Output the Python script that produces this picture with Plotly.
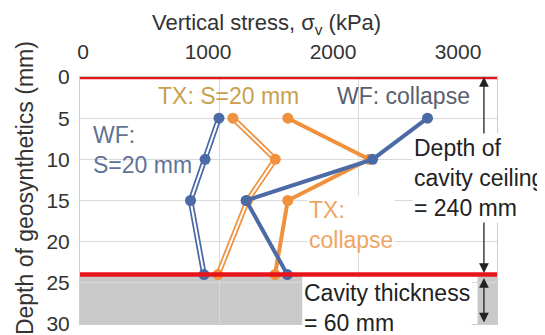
import plotly.graph_objects as go

# depth of each geosynthetic layer (axis units as printed on the chart)
depth = [5, 10, 15, 24]

# vertical stress (kPa)
wf_s20 = [1000, 900, 795, 892]
tx_s20 = [1100, 1405, 1205, 993]
tx_collapse = [1495, 2080, 1495, 1403]
wf_collapse = [2500, 2105, 1195, 1492]

red_lines = [0, 24]        # ground surface and cavity ceiling
cavity = [24, 30]          # cavity thickness band
x_ticks = [0, 1000, 2000, 3000]
y_ticks = [0, 5, 10, 15, 20, 25, 30]

BLUE = '#4b6aa6'
ORANGE = '#f0913d'
FONT = 'Arial, Liberation Sans, sans-serif'

fig = go.Figure()


def double_line(x, color):
    # hollow "double" line: thick coloured line with a white core, markers on top
    fig.add_trace(go.Scatter(x=x, y=depth, mode='lines',
                             line=dict(color=color, width=5.5)))
    fig.add_trace(go.Scatter(x=x, y=depth, mode='lines',
                             line=dict(color='white', width=2)))
    fig.add_trace(go.Scatter(x=x, y=depth, mode='markers',
                             marker=dict(color=color, size=11)))


def solid_line(x, color):
    fig.add_trace(go.Scatter(x=x, y=depth, mode='lines+markers',
                             line=dict(color=color, width=4),
                             marker=dict(color=color, size=11)))


double_line(tx_s20, ORANGE)
double_line(wf_s20, BLUE)
solid_line(tx_collapse, ORANGE)
solid_line(wf_collapse, BLUE)

# empty trace so the top (label-only) axis gets drawn
fig.add_trace(go.Scatter(x=x_ticks, y=[None] * len(x_ticks), xaxis='x2', yaxis='y',
                         mode='markers', hoverinfo='skip'))

# cavity band (grey), broken where the label sits
for x0, x1 in [(0, 1600), (2860, 3000)]:
    fig.add_shape(type='rect', xref='x', yref='y', x0=x0, x1=x1,
                  y0=cavity[0], y1=cavity[1], fillcolor='#c9c9c9',
                  line_width=0, layer='below')

for d in red_lines:
    fig.add_shape(type='line', xref='x domain', yref='y', x0=0, x1=1,
                  y0=d, y1=d, line=dict(color='#e8141b', width=4.5),
                  layer='above')

annotations = []
arrow_x = 2906
for a, b in [(red_lines[0], red_lines[1]), (cavity[0] + 0.4, cavity[1])]:
    annotations.append(dict(x=arrow_x, y=a, ax=arrow_x, ay=b, xref='x', yref='y',
                            axref='x', ayref='y', text='', showarrow=True,
                            arrowhead=2, arrowside='end+start', arrowsize=1.5,
                            arrowwidth=1.3, arrowcolor='#222222',
                            standoff=0, startstandoff=0))


def label(text, x, y, color, anchor='left', bg=None, size=23):
    annotations.append(dict(x=x, y=y, xref='x', yref='y', text=text,
                            showarrow=False, xanchor=anchor, yanchor='middle',
                            align='left', bgcolor=bg, borderpad=1,
                            font=dict(family=FONT, size=size, color=color)))


label('TX: S=20 mm', 1065, 2.3, '#c9a04f', anchor='center')
label('WF: collapse', 2330, 2.3, '#5a5f6e', anchor='center')
label('WF:<br>S=20 mm', 80, 8.9, '#5f7396')
label('Depth of<br>cavity ceiling<br>= 240 mm', 2390, 12.3, '#222222', bg='white')
label('TX:<br>collapse', 1635, 18.0, '#f0a564', bg='white')
label('Cavity thickness<br>= 60 mm', 1598, 28.1, '#222222', bg='white')

# axis titles
annotations.append(dict(xref='paper', yref='paper', x=0.448, y=1.215,
                        xanchor='center', yanchor='middle',
                        text='Vertical stress, σ<sub>v</sub> (kPa)', showarrow=False,
                        font=dict(family=FONT, size=22, color='#333333')))
annotations.append(dict(xref='paper', yref='paper', x=-0.132, y=0.55,
                        xanchor='center', yanchor='middle',
                        text='Depth of geosynthetics (mm)', showarrow=False,
                        textangle=-90,
                        font=dict(family=FONT, size=23, color='#333333')))

# the page body adds an 8 px margin, so the figure is sized to fit inside it
fig.update_layout(
    width=537, height=327,
    margin=dict(l=72, r=48, t=69, b=11),
    paper_bgcolor='white', plot_bgcolor='white',
    showlegend=False,
    font=dict(family=FONT, size=21, color='#333333'),
    annotations=annotations,
    xaxis=dict(range=[x_ticks[0], x_ticks[-1]], tickvals=x_ticks,
               showticklabels=False, ticks='', showgrid=True,
               gridcolor='#d9d9d9', gridwidth=1, zeroline=False,
               showline=True, linecolor='#cccccc', mirror=True,
               automargin=False),
    # separate top axis that only carries the printed tick labels
    xaxis2=dict(overlaying='x', side='top', anchor='y', range=[-24, 3312],
                tickvals=x_ticks, ticks='', showgrid=False, zeroline=False,
                showline=False, ticklabelstandoff=13, automargin=False,
                tickfont=dict(family=FONT, size=21, color='#333333')),
    yaxis=dict(range=[y_ticks[-1], y_ticks[0]], tickvals=y_ticks, ticks='',
               showgrid=True, gridcolor='#d9d9d9', gridwidth=1, zeroline=False,
               showline=True, linecolor='#cccccc', mirror=True,
               ticklabelstandoff=5, ticklabeloverflow='allow', automargin=False,
               tickfont=dict(family=FONT, size=21, color='#333333')),
)

fig.write_html('out.html')
